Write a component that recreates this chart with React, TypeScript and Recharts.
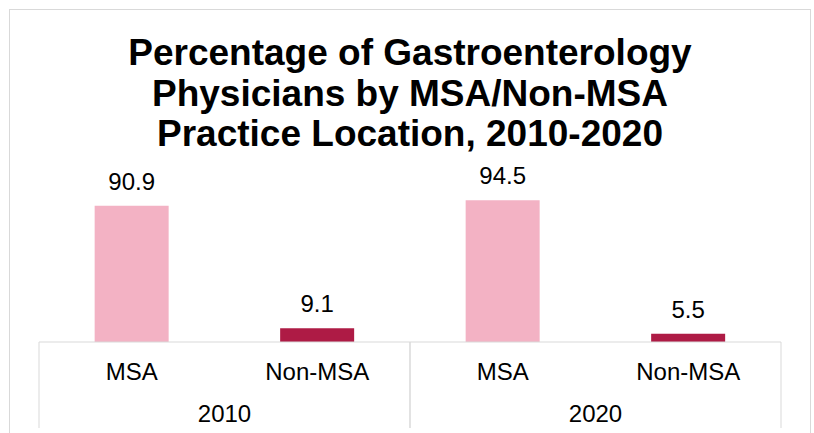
import { BarChart, Bar, XAxis, YAxis, Cell, LabelList } from "recharts";

const categories = ["MSA", "Non-MSA", "MSA", "Non-MSA"];
const years = ["2010", "2010", "2020", "2020"];
const values = [90.9, 9.1, 94.5, 5.5];

const COLORS = ["#F3B2C4", "#AE1B45", "#F3B2C4", "#AE1B45"];
const FONT = "'Liberation Sans', Arial, sans-serif";
const AXIS_COLOR = "#d9d9d9";

const data = categories.map((c, i) => ({ cat: c, year: years[i], value: values[i] }));

const PLOT_LEFT = 39;
const PLOT_RIGHT = 781;
const HALF_GROUP = (PLOT_RIGHT - PLOT_LEFT) / 4;

function CatTick(props: any) {
  const { x, y, payload } = props;
  return (
    <text x={x} y={y + 38} textAnchor="middle" fontSize={24} fill="#000" fontFamily={FONT}>
      {payload.value}
    </text>
  );
}

// year label plus the group separator lines under the axis
function YearTick(props: any) {
  const { x, y, payload } = props;
  return (
    <g>
      <line x1={x - HALF_GROUP} x2={x - HALF_GROUP} y1={y - 45} y2={y + 41} stroke={AXIS_COLOR} />
      <line x1={x + HALF_GROUP} x2={x + HALF_GROUP} y1={y - 45} y2={y + 41} stroke={AXIS_COLOR} />
      <text x={x} y={y + 35} textAnchor="middle" fontSize={24} fill="#000" fontFamily={FONT}>
        {payload.value}
      </text>
    </g>
  );
}

export default function App() {
  return (
    <div
      style={{
        position: "absolute",
        left: 0,
        top: 0,
        width: 814,
        height: 433,
        overflow: "hidden",
        background: "#fff",
      }}
    >
      <div
        style={{
          position: "absolute",
          left: 9,
          top: 9,
          width: 800,
          height: 460,
          border: `1px solid ${AXIS_COLOR}`,
        }}
      />
      <div
        style={{
          position: "absolute",
          left: 9,
          top: 33,
          width: 802,
          textAlign: "center",
          fontFamily: FONT,
          fontWeight: "bold",
          fontSize: 37,
          lineHeight: "40.5px",
          color: "#000",
        }}
      >
        Percentage of Gastroenterology
        <br />
        Physicians by MSA/Non-MSA
        <br />
        Practice Location, 2010-2020
      </div>
      <div style={{ position: "absolute", left: 0, top: 0 }}>
        <BarChart
          width={814}
          height={433}
          data={data}
          margin={{ top: 192, right: 814 - PLOT_RIGHT, bottom: 0, left: PLOT_LEFT }}
          barCategoryGap="30%"
        >
          <YAxis hide domain={[0, 100]} />
          <XAxis
            dataKey="cat"
            height={45}
            tickSize={0}
            tickMargin={0}
            tickLine={false}
            axisLine={{ stroke: AXIS_COLOR }}
            tick={<CatTick />}
            interval={0}
          />
          <XAxis
            xAxisId="year"
            dataKey="year"
            allowDuplicatedCategory={false}
            height={46}
            tickSize={0}
            tickMargin={0}
            tickLine={false}
            axisLine={false}
            tick={<YearTick />}
            interval={0}
          />
          <Bar dataKey="value" isAnimationActive={false}>
            {data.map((_, i) => (
              <Cell key={i} fill={COLORS[i]} />
            ))}
            <LabelList
              dataKey="value"
              position="top"
              offset={16}
              fontSize={24}
              fill="#000"
              fontFamily={FONT}
              formatter={(v: any) => Number(v).toFixed(1)}
            />
          </Bar>
        </BarChart>
      </div>
    </div>
  );
}
